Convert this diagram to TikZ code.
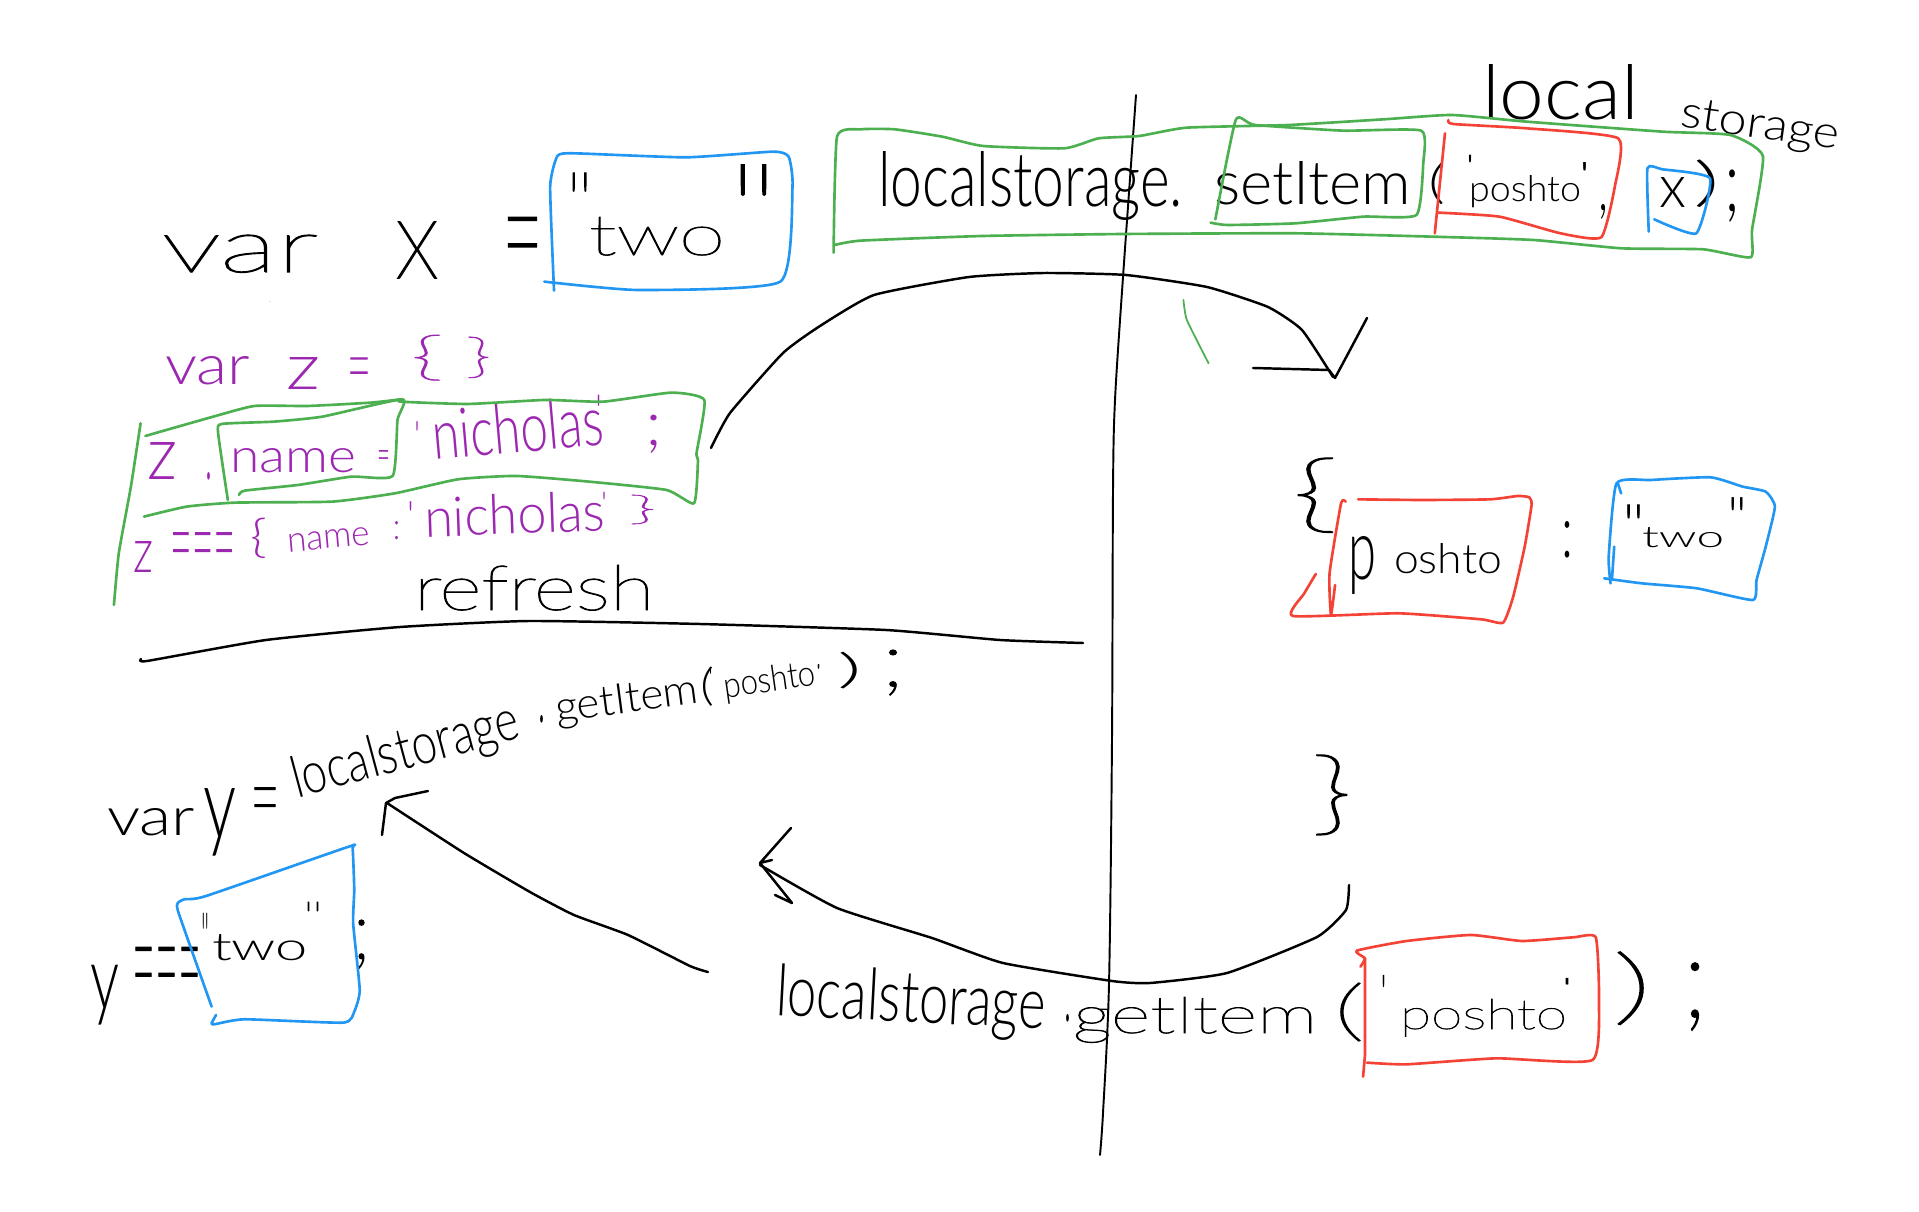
\documentclass[tikz,border=0pt]{standalone}
\usepackage{fontspec}
\usepackage{graphicx}
\newfontfamily\handfont{Lato Light}
\newfontfamily\thinfont[FakeBold=1.5]{Lato Hairline}
\definecolor{mgreen}{HTML}{4CAF50}
\definecolor{mblue}{HTML}{2196F3}
\definecolor{mred}{HTML}{F44336}
\definecolor{mpurple}{HTML}{9C27B0}
\newlength\U \setlength\U{0.02cm}
\tikzset{
  hand/.style={inner sep=0pt,outer sep=0pt,anchor=base west,font=\handfont},
  ink/.style={line width=1.5pt,line cap=round,line join=round},
  pen/.style={line width=1.1pt,line cap=round,line join=round,black},
  gbox/.style={ink,mgreen},
  bbox/.style={ink,mblue},
  rbox/.style={ink,mred},
  sm/.style={smooth,tension=0.3}
}
% \HW[colour]{name}{x,y of baseline start}{angle}{width}{height}{text}
\newcommand\HW[7][black]{\node[hand,text=#1,rotate=#4] (#2) at (#3) {\resizebox{#5\U}{#6\U}{#7}};}
% \IK[colour]{name}{x}{ink top}{width}{ink bottom}{ink height / box height}{text}
\newcommand\IK[8][black]{\pgfmathsetmacro\ikh{(#6-#4)/#7}\pgfmathsetmacro\ikb{#4+\ikh}%
  \node[hand,text=#1] (#2) at (#3,\ikb) {\resizebox{#5\U}{\ikh\U}{#8}};}
\begin{document}
\begin{tikzpicture}[x=0.02cm,y=-0.02cm]
\useasboundingbox (0,0) rectangle (1919,1212);
\fill[white] (0,0) rectangle (1919,1212);

% ---- text, top left
\HW{tvar}{162,272}{0}{156}{37}{\thinfont var}
\HW{tx}{395,278}{0}{44}{56}{\thinfont x}
\IK{teq}{502}{218}{41}{263}{0.6}{\thinfont =}
\HW{ttwo}{589,255}{0}{136}{38}{\thinfont two}
\IK{tql}{565}{173}{29}{193}{0.36}{\thinfont "}
\IK{tqr}{727}{165}{53}{198}{0.36}{\thinfont "}
% purple
\HW[mpurple]{pvar}{165,385}{0}{85}{28}{var}
\HW[mpurple]{pz}{286,390}{0}{34}{32}{z}
\IK[mpurple]{peq}{347}{358}{24}{382}{0.6}{\thinfont =}
\IK[mpurple]{pbl}{410}{335}{34}{385}{1.28}{\thinfont \{}
\IK[mpurple]{pbr}{465}{337}{27}{382}{1.28}{\thinfont \}}
\HW[mpurple]{pz2}{147,480}{0}{30}{37}{z}
\IK[mpurple]{pdot}{205}{473}{7}{480}{1}{.}
\HW[mpurple]{pname}{230,473}{0}{126}{24}{name}
\IK[mpurple]{peq2}{377}{450}{13}{462}{0.6}{=}
\IK[mpurple]{pq1}{414}{422}{6}{432}{0.36}{'}
\HW[mpurple]{pnich}{434,460}{5}{172}{50}{nicholas}
\IK[mpurple]{pq2}{595}{395}{7}{407}{0.36}{'}
\IK[mpurple]{psemi}{645}{415}{17}{453}{1.25}{;}
\HW[mpurple]{pz3}{133,573}{0}{20}{31}{z}
\IK[mpurple]{peq3}{170}{533}{65}{562}{0.6}{\thinfont ===}
\IK[mpurple]{pbl2}{250}{518}{17}{562}{1.28}{\{}
\HW[mpurple]{pname2}{288,552}{5}{83}{18}{name}
\IK[mpurple]{pcol}{393}{522}{7}{540}{1}{:}
\IK[mpurple]{pq3}{407}{502}{7}{512}{0.36}{'}
\HW[mpurple]{pnich2}{425,537}{2}{181}{40}{nicholas}
\IK[mpurple]{pq4}{601}{492}{6}{500}{0.36}{'}
\IK[mpurple]{pbr2}{628}{495}{29}{527}{1.28}{\thinfont \}}
\HW{trefresh}{414,610}{0}{240}{45}{\thinfont refresh}

% ---- text, top right
\HW{tlocal}{1482,120}{0}{157}{55}{local}
\HW{tstorage}{1679,127}{-8}{160}{30}{storage}
\HW{tls}{878,207}{0}{305}{55}{localstorage.}
\HW{tset}{1214,205}{0}{197}{43}{setItem}
\IK{tpo}{1428}{163}{17}{208}{1.28}{(}
\IK{tq5}{1465}{155}{10}{163}{0.36}{'}
\HW{tposh}{1469,202}{0}{112}{26}{poshto}
\IK{tq6}{1578}{163}{13}{172}{0.36}{'}
\IK{tcom}{1598}{205}{10}{220}{2.5}{,}
\HW{tx2}{1659,208}{0}{27}{30}{x}
\IK{tpc}{1693}{160}{27}{212}{1.28}{)}
\IK{tsemi}{1724}{170}{16}{222}{1.25}{;}

% ---- object on the right
\IK{bl}{1291}{458}{48}{540}{1.28}{\thinfont \{}
\HW{rp}{1348,580}{0}{28}{43}{p}
\HW{rosh}{1394,573}{0}{108}{30}{oshto}
\IK{rcol}{1561}{522}{12}{558}{1}{:}
\IK{rq1}{1622}{505}{23}{520}{0.36}{"}
\HW{rtwo}{1642,548}{0}{82}{20}{two}
\IK{rq2}{1727}{498}{20}{512}{0.36}{"}
\IK{br}{1311}{755}{42}{843}{1.28}{\thinfont \}}

% ---- middle-left line
\HW{lvar}{107,835}{0}{88}{27}{var}
\IK{ly}{203}{788}{33}{858}{1.4}{y}
\IK{leq}{250}{788}{30}{817}{0.6}{\thinfont =}
\HW{lls}{297,798}{15}{233}{42}{localstorage}
\IK{ldot}{538}{715}{7}{722}{1}{.}
\HW{lget}{557,722}{7.5}{144}{30}{getItem}
\IK{lpo}{700}{667}{14}{710}{1.28}{(}
\IK{lq1}{708}{670}{5}{675}{0.36}{'}
\HW{lposh}{725,698}{8}{93}{26}{poshto}
\IK{lq2}{815}{665}{7}{670}{0.36}{'}
\IK{lpc}{837}{652}{25}{692}{1.28}{)}
\IK{lsemi}{881}{650}{24}{695}{1.25}{\thinfont ;}
% y==="two";
\IK{uy}{90}{965}{29}{1027}{1.4}{y}
\IK{ueq}{132}{948}{69}{992}{0.6}{\thinfont ===}
\IK{uq1}{201}{913}{8}{930}{0.36}{"}
\HW{utwo}{212,960}{0}{96}{26}{two}
\IK{uq2}{302}{902}{22}{912}{0.36}{\thinfont "}
\IK{usemi}{352}{920}{19}{968}{1.25}{\thinfont ;}
% bottom line
\HW{bls}{775,1015}{-3}{270}{52}{localstorage}
\IK{bdot}{1064}{1014}{7}{1021}{1}{.}
\HW{bget}{1073,1033}{0}{244}{36}{\thinfont getItem}
\IK{bpo}{1333}{983}{32}{1047}{1.28}{\thinfont (}
\IK{bq1}{1380}{975}{7}{988}{0.36}{'}
\HW{bposh}{1400,1029}{0}{167}{30}{\thinfont poshto}
\IK{bq2}{1557}{978}{20}{985}{0.36}{\thinfont '}
\IK{bpc}{1612}{952}{41}{1032}{1.28}{\thinfont )}
\IK{bsemi}{1682}{963}{26}{1030}{1.25}{\thinfont ;}

% ---- dividers
\draw[pen,smooth,tension=0.5] plot coordinates {(1136,95) (1123,277) (1115,400) (1113,490) (1112,738) (1109,984) (1103,1113) (1100,1155)};
\draw[pen,line width=1.4pt,sm] plot coordinates {(141,659) (147,661) (266,640) (400,627) (529,621) (700,624) (886,630) (1000,640) (1083,643)};

% ---- arrows
\draw[pen,line width=1.4pt,sm] plot coordinates {(711,448) (730,413) (783,353) (820,326) (874,295) (969,277) (1044,273) (1126,275) (1207,287) (1268,307) (1302,330) (1333,377)};
\draw[pen,line width=1.4pt] (1253,368) -- (1329,370) -- (1335,378) -- (1350,350) -- (1367,318);
\draw[pen,line width=1.4pt,sm] plot coordinates {(708,972) (690,966) (628,935) (574,915) (530,892) (464,853) (387,803)};
\draw[pen,line width=1.4pt] (382,835) -- (386,803) -- (395,798) -- (428,791);
\draw[pen,line width=1.4pt,sm] plot coordinates {(1349,885) (1346,910) (1317,937) (1227,973) (1150,983) (1112,981) (1003,963) (932,938) (837,908) (760,865)};
\draw[pen,line width=1.4pt] (791,828) -- (760,863) -- (772,860);
\draw[pen,line width=1.4pt] (760,863) -- (792,903) -- (775,895);

% ---- zoom-1 strokes
\begin{scope}[shift={(80,120)},xscale=0.4847,yscale=0.3333]
\draw[bbox,sm] plot coordinates {(978,512) (970,200) (985,108) (1020,100) (1250,112) (1430,95) (1462,110) (1470,200) (1445,485) (1150,510) (958,485)};
\draw[gbox,sm] plot coordinates {(135,948) (275,890) (360,858) (470,858) (600,848) (665,838) (660,845) (800,852) (960,840) (1080,845) (1220,818) (1288,840) (1272,1000) (1275,1020) (1267,1150) (1210,1110) (1050,1085) (900,1068) (780,1078) (650,1120) (520,1145) (320,1148) (220,1160) (132,1190)};
\draw[gbox,sm] plot coordinates {(125,910) (105,1100) (80,1300) (70,1455)};
\draw[gbox,sm] plot coordinates {(305,1140) (285,940) (292,912) (400,905) (500,890) (665,838) (655,900) (645,1068) (560,1070) (450,1095) (340,1112) (328,1125)};
\fill[mgreen] (392,545) circle (1);
\end{scope}

% ---- zoom-2 strokes
\begin{scope}[shift={(820,30)},xscale=0.6793,yscale=0.3333]
\draw[gbox,sm] plot coordinates {(20,668) (25,320) (60,298) (110,298) (180,320) (240,348) (360,355) (410,325) (470,318) (540,293) (690,285) (830,268) (930,255) (1040,275) (1240,305) (1340,315) (1388,378) (1372,600) (1370,682) (1300,658) (1180,655) (1050,630) (900,620) (700,610) (450,612) (240,618) (60,632) (22,645)};
\draw[gbox,sm] plot coordinates {(582,568) (612,270) (640,285) (770,302) (885,302) (888,400) (878,555) (800,560) (700,580) (600,585) (575,578)};
\draw[rbox,sm] plot coordinates {(925,270) (932,282) (1040,295) (1175,325) (1170,470) (1150,622) (1090,610) (1000,560) (910,548)};
\draw[rbox] (920,310) -- (905,610);
\draw[bbox,sm] plot coordinates {(1220,605) (1218,415) (1240,418) (1310,445) (1290,610) (1228,568)};
\draw[ink,mgreen,line width=1pt,sm] plot coordinates {(535,810) (540,870) (572,1000)};
\end{scope}

% ---- bottom-left blue box
\begin{scope}[shift={(80,640)},xscale=0.5485,yscale=0.3333]
\draw[bbox,sm] plot coordinates {(240,1100) (180,820) (178,790) (190,778) (230,768) (490,620) (497,625) (500,750) (498,850) (510,1050) (500,1115) (480,1148) (300,1138) (245,1153) (240,1150) (248,1125)};
\end{scope}

% ---- right boxes
\begin{scope}[shift={(1100,440)},xscale=0.4591,yscale=0.3333]
\draw[rbox,sm] plot coordinates {(562,178) (700,180) (850,178) (910,168) (935,172) (940,195) (925,320) (900,470) (878,548) (830,538) (650,520) (420,528) (445,460) (470,402)};
\draw[rbox,sm] plot coordinates {(535,185) (525,190) (500,400) (503,525) (512,435)};
\draw[bbox,sm] plot coordinates {(1112,430) (1108,350) (1125,130) (1200,120) (1330,112) (1400,140) (1450,155) (1470,200) (1450,320) (1430,420) (1422,480) (1300,445) (1180,430) (1098,415)};
\draw[bbox] (1128,130) -- (1135,160);
\draw[bbox] (1120,320) -- (1115,420);
\end{scope}

% ---- bottom red box
\begin{scope}[shift={(740,880)},xscale=0.641,yscale=0.3333]
\draw[rbox,sm] plot coordinates {(968,260) (975,235) (962,212) (1040,183) (1140,165) (1220,183) (1300,172) (1335,172) (1340,350) (1330,540) (1180,535) (1040,553) (978,548)};
\draw[rbox] (975,235) -- (975,525) -- (972,590);
\end{scope}
\end{tikzpicture}
\end{document}
